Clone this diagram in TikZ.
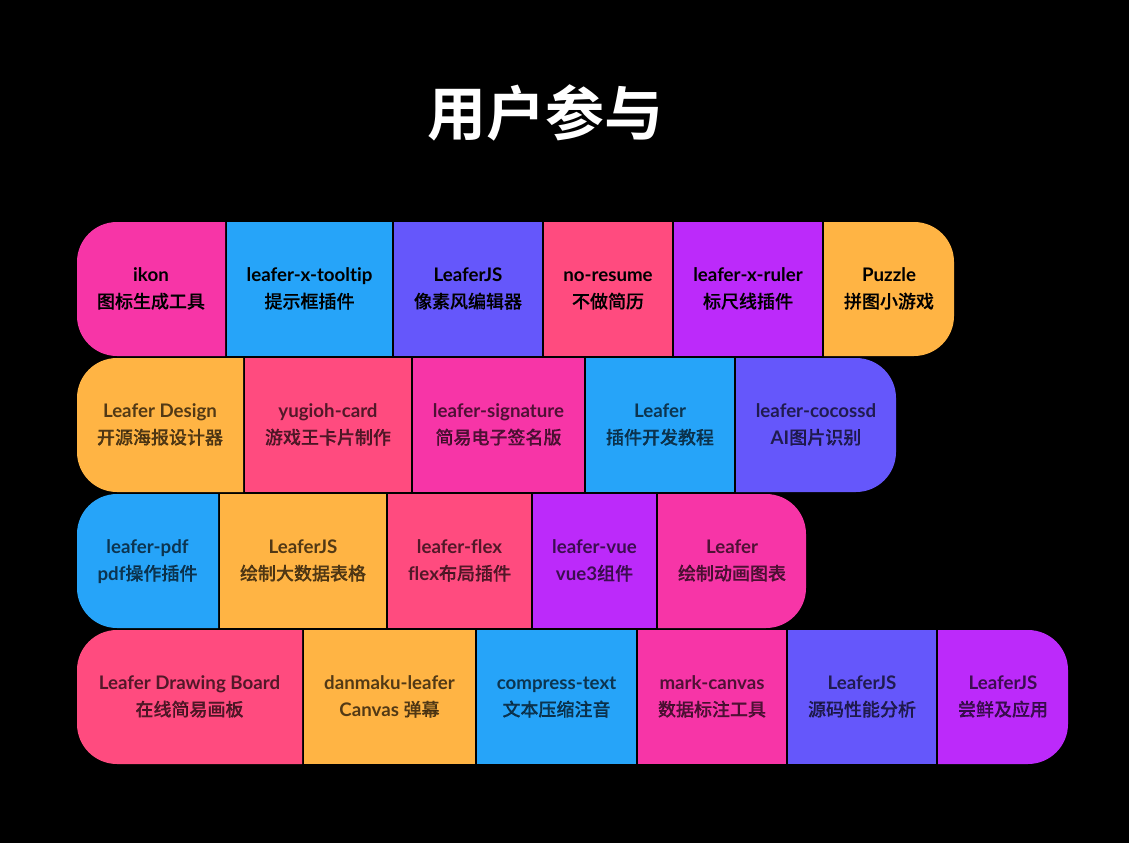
\documentclass[tikz,border=0pt]{standalone}
\usepackage{fontspec}
\setmainfont{Lato}[UprightFont=* Bold, Ligatures=NoCommon]
\newfontfamily\cjk{Noto Sans CJK SC}[BoldFont=* Bold]
\newfontfamily\cjkt{Noto Sans CJK SC}[UprightFont=* Medium, FakeBold=0.3]
\newcommand{\zh}[1]{{\fontsize{18}{27}\selectfont\cjkt #1}}
\definecolor{cpink}{HTML}{F735A7}
\definecolor{cblue}{HTML}{26A4F9}
\definecolor{cindigo}{HTML}{6557FB}
\definecolor{crose}{HTML}{FF4B7F}
\definecolor{cviolet}{HTML}{BC2AFA}
\definecolor{corange}{HTML}{FFB444}
\tikzset{
  celltext/.style={font=\fontsize{18.7}{27}\selectfont, align=center, inner sep=0pt, text=black, text height=41pt, text depth=6pt},
  dim/.style={text opacity=0.68},
  titletext/.style={font=\fontsize{59}{60}\selectfont\cjk\bfseries, text=white, inner sep=0pt},
}
% #1 name, #2 x1, #3 x2, #4 y1, #5 colour, #6 kind (l, r, m), #7 node options, #8 text
\newcommand{\cell}[8]{%
  \def\kind{#6}\def\kl{l}\def\kr{r}%
  \ifx\kind\kl
    \fill[#5] (#3,#4) [sharp corners] -- (#3,#4+134) [rounded corners=40pt] -- (#2,#4+134) -- (#2,#4) [sharp corners] -- cycle;
  \else\ifx\kind\kr
    \fill[#5] (#2,#4) [sharp corners] -- (#2,#4+134) [rounded corners=40pt] -- (#3,#4+134) -- (#3,#4) [sharp corners] -- cycle;
  \else
    \fill[#5] (#2,#4) rectangle (#3,#4+134);
  \fi\fi
  \node[celltext,#7] (#1) at ({(#2+#3)/2},#4+68.5) {#8};
}
\begin{document}
\begin{tikzpicture}[x=1pt,y=-1pt]
\useasboundingbox (0,0) rectangle (1129,843);
\fill[black] (0,0) rectangle (1129,843);
\node[titletext] (title) at (545,113) {用户参与};
% row 1
\cell{a1}{77}{225}{222}{cpink}{l}{}{ikon\\\zh{图标生成工具}}
\cell{a2}{227}{392}{222}{cblue}{m}{}{leafer-x-tooltip\\\zh{提示框插件}}
\cell{a3}{394}{542}{222}{cindigo}{m}{}{LeaferJS\\\zh{像素风编辑器}}
\cell{a4}{544}{672}{222}{crose}{m}{}{no-resume\\\zh{不做简历}}
\cell{a5}{674}{822}{222}{cviolet}{m}{}{leafer-x-ruler\\\zh{标尺线插件}}
\cell{a6}{824}{954}{222}{corange}{r}{}{Puzzle\\\zh{拼图小游戏}}
% row 2
\cell{b1}{77}{243}{358}{corange}{l}{dim}{Leafer Design\\\zh{开源海报设计器}}
\cell{b2}{245}{411}{358}{crose}{m}{dim}{yugioh-card\\\zh{游戏王卡片制作}}
\cell{b3}{413}{584}{358}{cpink}{m}{dim}{leafer-signature\\\zh{简易电子签名版}}
\cell{b4}{586}{734}{358}{cblue}{m}{dim}{Leafer\\\zh{插件开发教程}}
\cell{b5}{736}{896}{358}{cindigo}{r}{dim}{leafer-cocossd\\AI\zh{图片识别}}
% row 3
\cell{c1}{77}{218}{494}{cblue}{l}{dim}{leafer-pdf\\pdf\zh{操作插件}}
\cell{c2}{220}{386}{494}{corange}{m}{dim}{LeaferJS\\\zh{绘制大数据表格}}
\cell{c3}{388}{531}{494}{crose}{m}{dim}{leafer-flex\\flex\zh{布局插件}}
\cell{c4}{533}{656}{494}{cviolet}{m}{dim}{leafer-vue\\vue3\zh{组件}}
\cell{c5}{658}{806}{494}{cpink}{r}{dim}{Leafer\\\zh{绘制动画图表}}
% row 4
\cell{d1}{77}{302}{630}{crose}{l}{dim}{Leafer Drawing Board\\\zh{在线简易画板}}
\cell{d2}{304}{475}{630}{corange}{m}{dim}{danmaku-leafer\\Canvas \zh{弹幕}}
\cell{d3}{477}{636}{630}{cblue}{m}{dim}{compress-text\\\zh{文本压缩注音}}
\cell{d4}{638}{786}{630}{cpink}{m}{dim}{mark-canvas\\\zh{数据标注工具}}
\cell{d5}{788}{936}{630}{cindigo}{m}{dim}{LeaferJS\\\zh{源码性能分析}}
\cell{d6}{938}{1068}{630}{cviolet}{r}{dim}{LeaferJS\\\zh{尝鲜及应用}}
\end{tikzpicture}
\end{document}
